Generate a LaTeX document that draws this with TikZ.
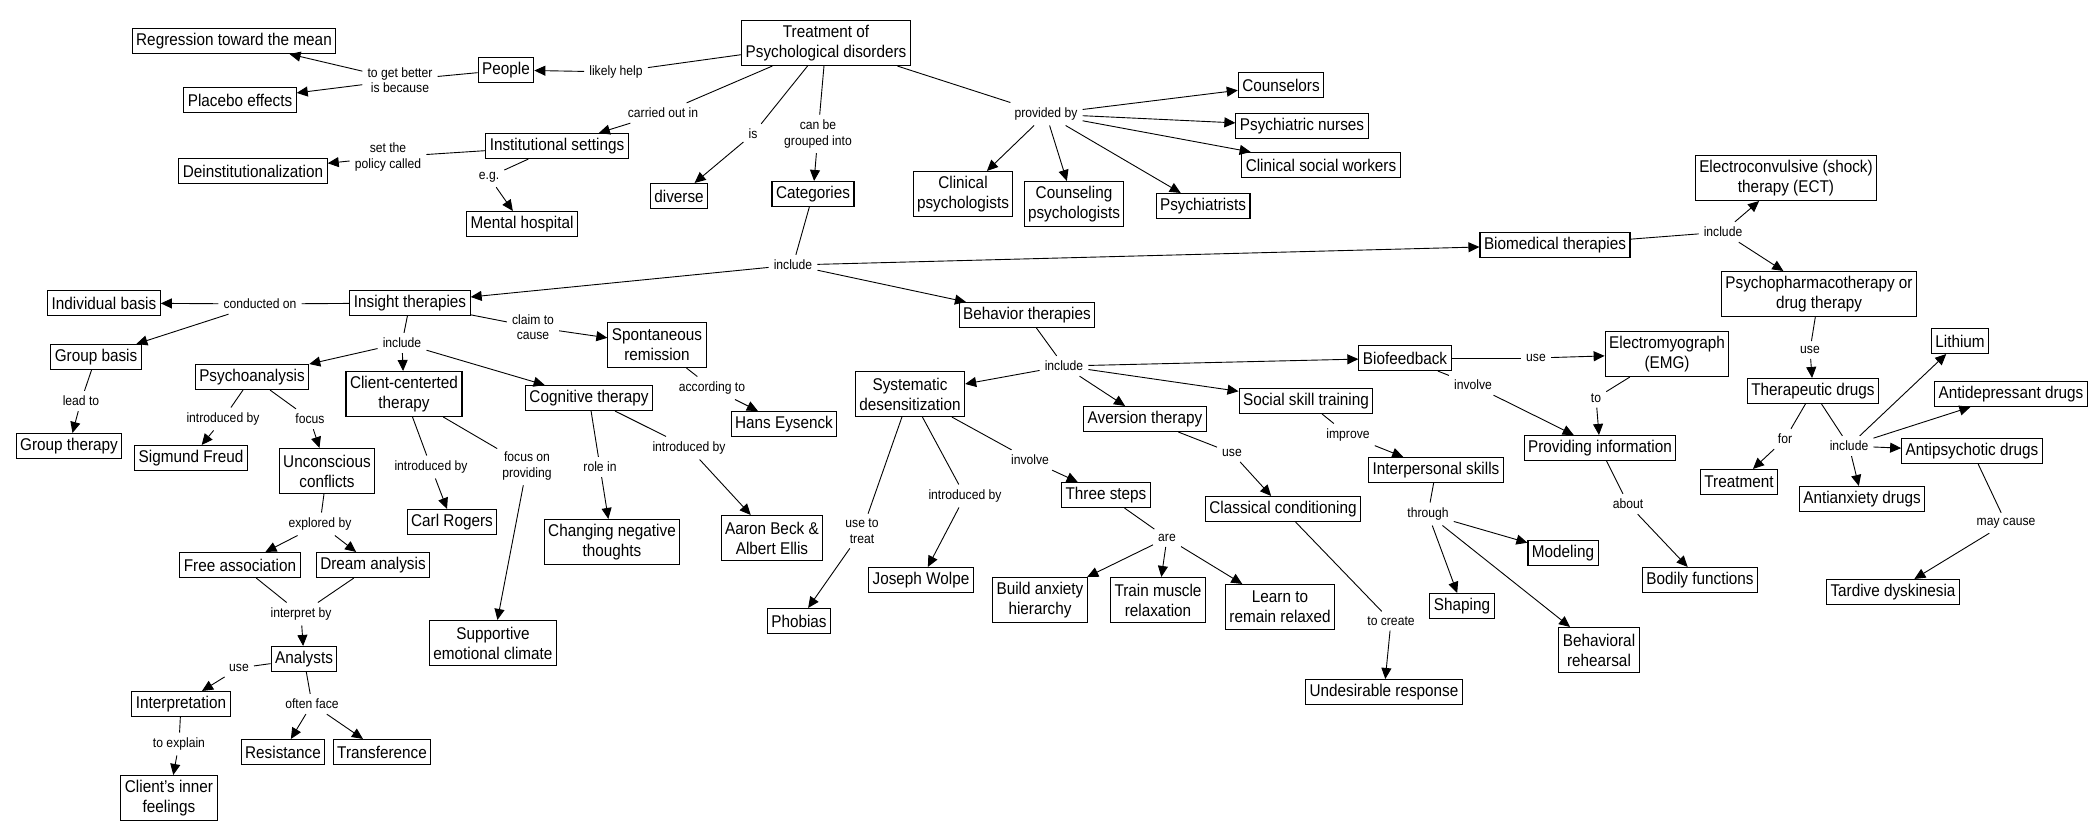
\documentclass[tikz,border=0pt]{standalone}
\usepackage{fontspec}
\setmainfont{Liberation Sans}[FakeStretch=0.9]
\usetikzlibrary{arrows.meta}
\newcommand\bxf{\fontsize{17}{20}\selectfont}
\newcommand\lbf{\fontsize{13.5}{15.5}\selectfont}
\tikzset{
  box/.style={draw, line width=1.1pt, inner xsep=4pt, inner ysep=0pt, minimum height=25pt, font=\bxf, align=center},
  tbox/.style={box, minimum height=45pt},
  lab/.style={font=\lbf, inner sep=5pt, align=center},
  ln/.style={line width=0.9pt},
  ar/.style={line width=0.9pt, -{Triangle[length=11pt,width=10pt]}},
}
\begin{document}
\begin{tikzpicture}[x=1pt,y=-1pt]
\useasboundingbox (0,0) rectangle (2093,840);
\fill[white] (0,0) rectangle (2093,840);
% concept nodes
\node[tbox] (treat) at (826,43) {Treatment of\\Psychological disorders};
\node[box] (people) at (506,70) {People};
\node[box] (regr) at (234,41) {Regression toward the mean};
\node[box] (placebo) at (240,100) {Placebo effects};
\node[box] (inst) at (557,146) {Institutional settings};
\node[box] (deinst) at (253,171) {Deinstitutionalization};
\node[box] (mental) at (522,224) {Mental hospital};
\node[box] (diverse) at (679,196) {diverse};
\node[box] (cat) at (813,194) {Categories};
\node[tbox] (clinpsy) at (963,194) {Clinical\\psychologists};
\node[tbox] (counpsy) at (1074,204) {Counseling\\psychologists};
\node[box] (psychiatrists) at (1203,206) {Psychiatrists};
\node[box] (counselors) at (1281,85) {Counselors};
\node[box] (nurses) at (1302,126) {Psychiatric nurses};
\node[box] (csw) at (1321,165) {Clinical social workers};
\node[tbox] (ect) at (1786,178) {Electroconvulsive (shock)\\therapy (ECT)};
\node[box] (biomed) at (1555,245) {Biomedical therapies};
\node[tbox] (pharm) at (1819,294) {Psychopharmacotherapy or\\drug therapy};
\node[box] (thdrugs) at (1813,391) {Therapeutic drugs};
\node[box] (lithium) at (1960,341) {Lithium};
\node[box] (antidep) at (2011,394) {Antidepressant drugs};
\node[box] (antipsy) at (1972,451) {Antipsychotic drugs};
\node[box] (antianx) at (1862,499) {Antianxiety drugs};
\node[box] (treatment) at (1739,482) {Treatment};
\node[box] (tardive) at (1893,592) {Tardive dyskinesia};
\node[tbox] (emg) at (1667,354) {Electromyograph\\(EMG)};
\node[box] (biofb) at (1405,358) {Biofeedback};
\node[box] (provinfo) at (1600,448) {Providing information};
\node[box] (bodily) at (1700,580) {Bodily functions};
\node[box] (interp) at (1436,470) {Interpersonal skills};
\node[box] (modeling) at (1563,553) {Modeling};
\node[box] (shaping) at (1462,606) {Shaping};
\node[tbox] (rehearsal) at (1599,650) {Behavioral\\rehearsal};
\node[box] (social) at (1306,401) {Social skill training};
\node[box] (aversion) at (1145,419) {Aversion therapy};
\node[box] (classical) at (1283,509) {Classical conditioning};
\node[box] (undes) at (1384,692) {Undesirable response};
\node[box] (behav) at (1027,315) {Behavior therapies};
\node[tbox] (sysdes) at (910,394) {Systematic\\desensitization};
\node[box] (threesteps) at (1106,495) {Three steps};
\node[tbox] (build) at (1040,600) {Build anxiety\\hierarchy};
\node[tbox] (train) at (1158,600) {Train muscle\\relaxation};
\node[tbox] (learn) at (1280,607) {Learn to\\remain relaxed};
\node[box] (wolpe) at (921,580) {Joseph Wolpe};
\node[box] (phobias) at (799,621) {Phobias};
\node[tbox] (beck) at (772,538) {Aaron Beck \&\\Albert Ellis};
\node[box] (eysenck) at (784,424) {Hans Eysenck};
\node[tbox] (spont) at (657,345) {Spontaneous\\remission};
\node[box] (insight) at (410,303) {Insight therapies};
\node[box] (indiv) at (104,303) {Individual basis};
\node[box] (group) at (96,357) {Group basis};
\node[box] (grouptherapy) at (69,446) {Group therapy};
\node[box] (psychoan) at (252,377) {Psychoanalysis};
\node[tbox] (clientc) at (404,394) {Client-centerted\\therapy};
\node[box] (cognitive) at (589,398) {Cognitive therapy};
\node[box] (freud) at (191,458) {Sigmund Freud};
\node[tbox] (unconsc) at (327,471) {Unconscious\\conflicts};
\node[box] (freeassoc) at (240,565) {Free association};
\node[box] (dream) at (373,565) {Dream analysis};
\node[box] (analysts) at (304,659) {Analysts};
\node[box] (interpretation) at (181,704) {Interpretation};
\node[box] (resistance) at (283,752) {Resistance};
\node[box] (transference) at (382,752) {Transference};
\node[tbox] (inner) at (169,798) {Client's inner\\feelings};
\node[box] (rogers) at (452,522) {Carl Rogers};
\node[tbox] (supportive) at (493,643) {Supportive\\emotional climate};
\node[tbox] (changing) at (612,542) {Changing negative\\thoughts};
% link labels
\node[lab] (lLikely) at (616,72) {likely help};
\node[lab] (lBecause) at (400,80) {to get better\\is because};
\node[lab] (lCarried) at (663,113) {carried out in};
\node[lab] (lPolicy) at (388,157) {set the\\policy called};
\node[lab] (lEg) at (489,177) {e.g.};
\node[lab] (lIs) at (753,134) {is};
\node[lab] (lGrouped) at (818,134) {can be\\grouped into};
\node[lab] (lProvided) at (1046,114) {provided by};
\node[lab] (lCatInc) at (793,265) {include};
\node[lab] (lBioInc) at (1723,232) {include};
\node[lab] (lPharmUse) at (1810,350) {use};
\node[lab] (lFor) at (1785,439) {for};
\node[lab] (lDrugInc) at (1849,446) {include};
\node[lab] (lMay) at (2006,523) {may cause};
\node[lab] (lConducted) at (260,304) {conducted on};
\node[lab] (lLead) at (81,401) {lead to};
\node[lab] (lClaim) at (533,327) {claim to\\cause};
\node[lab] (lAccording) at (712,388) {according to};
\node[lab] (lInsInc) at (402,343) {include};
\node[lab] (lIntroFreud) at (223,419) {introduced by};
\node[lab] (lFocus) at (310,419) {focus};
\node[lab] (lExplored) at (320,524) {explored by};
\node[lab] (lInterpret) at (301,614) {interpret by};
\node[lab] (lUse) at (239,668) {use};
\node[lab] (lExplain) at (179,744) {to explain};
\node[lab] (lOften) at (312,704) {often face};
\node[lab] (lIntroRogers) at (431,467) {introduced by};
\node[lab] (lFocusOn) at (527,466) {focus on\\providing};
\node[lab] (lRole) at (600,467) {role in};
\node[lab] (lIntroBeck) at (689,448) {introduced by};
\node[lab] (lBehInc) at (1064,366) {include};
\node[lab] (lTreat) at (862,531) {use to\\treat};
\node[lab] (lIntroWolpe) at (965,496) {introduced by};
\node[lab] (lInvolve) at (1030,460) {involve};
\node[lab] (lAre) at (1167,538) {are};
\node[lab] (lAvUse) at (1232,453) {use};
\node[lab] (lCreate) at (1391,621) {to create};
\node[lab] (lImprove) at (1348,435) {improve};
\node[lab] (lThrough) at (1428,514) {through};
\node[lab] (lBioUse) at (1536,358) {use};
\node[lab] (lBioInv) at (1473,385) {involve};
\node[lab] (lTo) at (1596,398) {to};
\node[lab] (lAbout) at (1628,504) {about};
% connectors
\draw[ln] (treat) -- (lLikely); \draw[ar] (lLikely) -- (people);
\draw[ln] (people) -- (lBecause); \draw[ar] (lBecause) -- (regr); \draw[ar] (lBecause) -- (placebo);
\draw[ln] (treat) -- (lCarried); \draw[ar] (lCarried) -- (inst);
\draw[ln] (inst) -- (lPolicy); \draw[ar] (lPolicy) -- (deinst);
\draw[ln] (inst) -- (lEg); \draw[ar] (lEg) -- (mental);
\draw[ln] (treat) -- (lIs); \draw[ar] (lIs) -- (diverse);
\draw[ln] (treat) -- (lGrouped); \draw[ar] (lGrouped) -- (cat);
\draw[ln] (treat) -- (lProvided);
\draw[ar] (lProvided) -- (counselors); \draw[ar] (lProvided) -- (nurses); \draw[ar] (lProvided) -- (csw);
\draw[ar] (lProvided) -- (clinpsy); \draw[ar] (lProvided) -- (counpsy); \draw[ar] (lProvided) -- (psychiatrists);
\draw[ln] (cat) -- (lCatInc);
\draw[ar] (lCatInc) -- (insight); \draw[ar] (lCatInc) -- (behav); \draw[ar] (lCatInc) -- (biomed);
\draw[ln] (biomed) -- (lBioInc); \draw[ar] (lBioInc) -- (ect); \draw[ar] (lBioInc) -- (pharm);
\draw[ln] (pharm) -- (lPharmUse); \draw[ar] (lPharmUse) -- (thdrugs);
\draw[ln] (thdrugs) -- (lFor); \draw[ar] (lFor) -- (treatment);
\draw[ln] (thdrugs) -- (lDrugInc);
\draw[ar] (lDrugInc) -- (lithium); \draw[ar] (lDrugInc) -- (antidep); \draw[ar] (lDrugInc) -- (antipsy); \draw[ar] (lDrugInc) -- (antianx);
\draw[ln] (antipsy) -- (lMay); \draw[ar] (lMay) -- (tardive);
\draw[ln] (insight) -- (lConducted); \draw[ar] (lConducted) -- (indiv); \draw[ar] (lConducted) -- (group);
\draw[ln] (group) -- (lLead); \draw[ar] (lLead) -- (grouptherapy);
\draw[ln] (insight) -- (lClaim); \draw[ar] (lClaim) -- (spont);
\draw[ln] (spont) -- (lAccording); \draw[ar] (lAccording) -- (eysenck);
\draw[ln] (insight) -- (lInsInc);
\draw[ar] (lInsInc) -- (psychoan); \draw[ar] (lInsInc) -- (clientc); \draw[ar] (lInsInc) -- (cognitive);
\draw[ln] (psychoan) -- (lIntroFreud); \draw[ar] (lIntroFreud) -- (freud);
\draw[ln] (psychoan) -- (lFocus); \draw[ar] (lFocus) -- (unconsc);
\draw[ln] (unconsc) -- (lExplored); \draw[ar] (lExplored) -- (freeassoc); \draw[ar] (lExplored) -- (dream);
\draw[ln] (freeassoc) -- (lInterpret); \draw[ln] (dream) -- (lInterpret); \draw[ar] (lInterpret) -- (analysts);
\draw[ln] (analysts) -- (lUse); \draw[ar] (lUse) -- (interpretation);
\draw[ln] (interpretation) -- (lExplain); \draw[ar] (lExplain) -- (inner);
\draw[ln] (analysts) -- (lOften); \draw[ar] (lOften) -- (resistance); \draw[ar] (lOften) -- (transference);
\draw[ln] (clientc) -- (lIntroRogers); \draw[ar] (lIntroRogers) -- (rogers);
\draw[ln] (clientc) -- (lFocusOn); \draw[ar] (lFocusOn) -- (supportive);
\draw[ln] (cognitive) -- (lRole); \draw[ar] (lRole) -- (changing);
\draw[ln] (cognitive) -- (lIntroBeck); \draw[ar] (lIntroBeck) -- (beck);
\draw[ln] (behav) -- (lBehInc);
\draw[ar] (lBehInc) -- (sysdes); \draw[ar] (lBehInc) -- (aversion); \draw[ar] (lBehInc) -- (social); \draw[ar] (lBehInc) -- (biofb);
\draw[ln] (sysdes) -- (lTreat); \draw[ar] (lTreat) -- (phobias);
\draw[ln] (sysdes) -- (lIntroWolpe); \draw[ar] (lIntroWolpe) -- (wolpe);
\draw[ln] (sysdes) -- (lInvolve); \draw[ar] (lInvolve) -- (threesteps);
\draw[ln] (threesteps) -- (lAre); \draw[ar] (lAre) -- (build); \draw[ar] (lAre) -- (train); \draw[ar] (lAre) -- (learn);
\draw[ln] (aversion) -- (lAvUse); \draw[ar] (lAvUse) -- (classical);
\draw[ln] (classical) -- (lCreate); \draw[ar] (lCreate) -- (undes);
\draw[ln] (social) -- (lImprove); \draw[ar] (lImprove) -- (interp);
\draw[ln] (interp) -- (lThrough); \draw[ar] (lThrough) -- (modeling); \draw[ar] (lThrough) -- (shaping); \draw[ar] (lThrough) -- (rehearsal);
\draw[ln] (biofb) -- (lBioUse); \draw[ar] (lBioUse) -- (emg);
\draw[ln] (biofb) -- (lBioInv); \draw[ar] (lBioInv) -- (provinfo);
\draw[ln] (emg) -- (lTo); \draw[ar] (lTo) -- (provinfo);
\draw[ln] (provinfo) -- (lAbout); \draw[ar] (lAbout) -- (bodily);
\end{tikzpicture}
\end{document}
